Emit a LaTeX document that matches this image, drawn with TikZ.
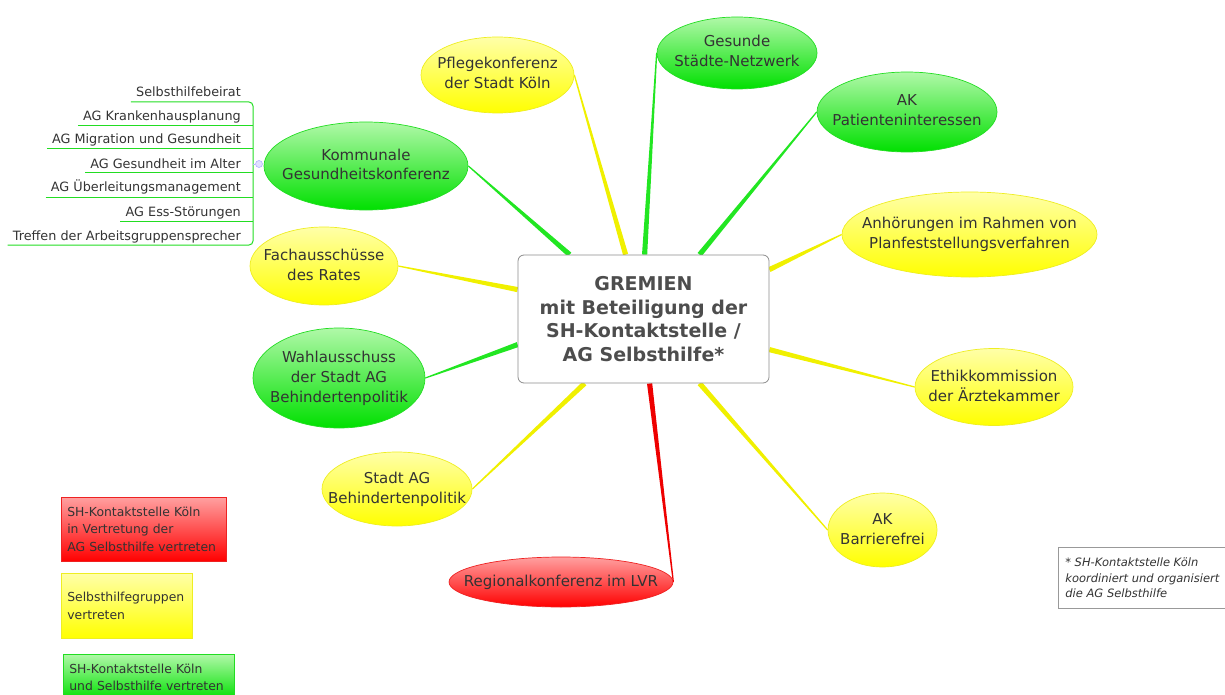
\documentclass[tikz,border=0pt]{standalone}
\usepackage{fontspec}
\setmainfont{DejaVu Sans}
\usetikzlibrary{shapes.geometric,calc,backgrounds}
\definecolor{txt}{HTML}{333333}
\definecolor{ctxt}{HTML}{4D4D4D}
\definecolor{gtop}{HTML}{B0F8A8}
\definecolor{gbot}{HTML}{00E000}
\definecolor{gline}{HTML}{22DD22}
\definecolor{ytop}{HTML}{FFFFA8}
\definecolor{ybot}{HTML}{FFFF00}
\definecolor{yline}{HTML}{EEEE22}
\definecolor{rtop}{HTML}{FFA0A0}
\definecolor{rbot}{HTML}{FF0000}
\definecolor{rline}{HTML}{EE2222}
\definecolor{cg}{HTML}{22E622}
\definecolor{cy}{HTML}{F0F000}
\definecolor{cr}{HTML}{EE0000}
\newcommand\conn[3]{\fill[#1] ($(#2)!2.6pt!90:(#3)$) -- ($(#2)!2.6pt!-90:(#3)$) -- ($(#3)!0.6pt!90:(#2)$) -- ($(#3)!0.6pt!-90:(#2)$) -- cycle;}
\newcommand\bt[1]{\makebox[0pt]{\begin{tabular}{@{}c@{}}#1\end{tabular}}}
\tikzset{
  bub/.style={ellipse, align=center, text=txt, inner sep=0pt, line width=0.7pt,
    font=\fontsize{15}{20}\selectfont},
  gbub/.style={bub, draw=gline, top color=gtop, bottom color=gbot},
  ybub/.style={bub, draw=yline, top color=ytop, bottom color=ybot},
  rbub/.style={bub, draw=rline, top color=rtop, bottom color=rbot},
  centre/.style={draw=black!45, fill=white, rounded corners=6pt, line width=0.8pt,
    minimum width=251pt, minimum height=128pt, align=center, text=ctxt,
    font=\fontsize{19}{23.5}\selectfont\bfseries},
  item/.style={anchor=base east, inner sep=0pt, text=txt, font=\fontsize{12.8}{15}\selectfont},
  listline/.style={draw=gline, line width=1pt},
  legend/.style={anchor=north west, align=left, text=txt, inner xsep=6pt, inner ysep=0pt,
    font=\fontsize{12.4}{17.5}\selectfont, line width=0.6pt},
  note/.style={anchor=north west, align=left, text=txt, draw=black!40, fill=white,
    inner xsep=6pt, inner ysep=0pt, line width=0.7pt,
    font=\fontsize{11.5}{15.5}\selectfont\itshape},
}
\begin{document}
\begin{tikzpicture}[x=1pt,y=-1pt]
\clip (0,0) rectangle (1225,695);
\useasboundingbox (0,0) rectangle (1225,695);

% centre
\node[centre] (ctr) at (643.5,319) {GREMIEN\\mit Beteiligung der\\SH-Kontaktstelle /\\AG Selbsthilfe*};

% topic bubbles
\node[ybub, minimum width=153pt, minimum height=76pt] (pfl) at (497.5,75) {\bt{Pflegekonferenz\\der Stadt Köln}};
\node[gbub, minimum width=160pt, minimum height=72pt] (gsn) at (737,53) {\bt{Gesunde\\Städte-Netzwerk}};
\node[gbub, minimum width=180pt, minimum height=80pt] (akp) at (907,112) {\bt{AK\\Patienteninteressen}};
\node[ybub, minimum width=255pt, minimum height=85pt] (anh) at (969.5,234.5) {\bt{Anhörungen im Rahmen von\\Planfeststellungsverfahren}};
\node[ybub, minimum width=158pt, minimum height=77pt] (eth) at (994,387) {\bt{Ethikkommission\\der Ärztekammer}};
\node[ybub, minimum width=109pt, minimum height=74pt] (akb) at (882.5,530) {\bt{AK\\Barrierefrei}};
\node[rbub, minimum width=224pt, minimum height=50pt] (rlvr) at (561,582) {\bt{Regionalkonferenz im LVR}};
\node[ybub, minimum width=150pt, minimum height=74pt] (sag) at (397,489) {\bt{Stadt AG\\Behindertenpolitik}};
\node[gbub, minimum width=172pt, minimum height=100pt] (wa) at (339,378) {\bt{Wahlausschuss\\der Stadt AG\\Behindertenpolitik}};
\node[ybub, minimum width=148pt, minimum height=78pt] (fa) at (324,266) {\bt{Fachausschüsse\\des Rates}};
\node[gbub, minimum width=204pt, minimum height=88pt] (kgk) at (366,166) {\bt{Kommunale\\Gesundheitskonferenz}};

% attachment points on the centre box
\coordinate (bK) at ($(ctr.north west)+(52,0)$);
\coordinate (bP) at ($(ctr.north west)+(108,0)$);
\coordinate (bG) at ($(ctr.north west)+(127,0)$);
\coordinate (bA) at ($(ctr.north west)+(182,0)$);
\coordinate (bH) at ($(ctr.north east)+(0,15)$);
\coordinate (bE) at ($(ctr.north east)+(0,95)$);
\coordinate (bB) at ($(ctr.south west)+(182,0)$);
\coordinate (bR) at ($(ctr.south west)+(132,0)$);
\coordinate (bS) at ($(ctr.south west)+(67,0)$);
\coordinate (bW) at ($(ctr.north west)+(0,90)$);
\coordinate (bF) at ($(ctr.north west)+(0,35)$);

\begin{scope}[on background layer]
\conn{cg}{bK}{kgk.east}
\conn{cy}{bP}{pfl.east}
\conn{cg}{bG}{gsn.west}
\conn{cg}{bA}{akp.west}
\conn{cy}{bH}{anh.west}
\conn{cy}{bE}{eth.west}
\conn{cy}{bB}{akb.west}
\conn{cr}{bR}{rlvr.east}
\conn{cy}{bS}{sag.east}
\conn{cg}{bW}{wa.east}
\conn{cy}{bF}{fa.east}
\end{scope}

% sub-list of Kommunale Gesundheitskonferenz
\node[item] (i1) at (241,97) {Selbsthilfebeirat};
\node[item] (i2) at (241,121) {AG Krankenhausplanung};
\node[item] (i3) at (241,144) {AG Migration und Gesundheit};
\node[item] (i4) at (241,168) {AG Gesundheit im Alter};
\node[item] (i5) at (241,192) {AG Überleitungsmanagement};
\node[item] (i6) at (241,216) {AG Ess-Störungen};
\node[item] (i7) at (241,240) {Treffen der Arbeitsgruppensprecher};
\coordinate (bar) at (253,0);
\foreach \n in {i1,i2,i3,i4,i5,i6,i7}{
  \coordinate (u\n) at ($(\n.base west)+(-5,5)$);
}
\draw[listline, rounded corners=4pt] (ui1) -- (ui1 -| bar) -- (ui7 -| bar) -- (ui7);
\foreach \n in {i2,i3,i4,i5,i6}{
  \draw[listline] (u\n) -- (u\n -| bar);
}
\node[circle, draw=blue!30, fill=blue!12, line width=0.6pt, minimum size=7pt, inner sep=0pt] (dot) at (259,164) {};
\draw[draw=blue!30, line width=0.6pt] (dot.west) -- (dot.west -| bar);

% legend
\node[legend, draw=rline, top color=rtop, bottom color=rbot, minimum width=165pt, minimum height=64pt, text width=153pt] (lr) at (61,497) {SH-Kontaktstelle Köln\\in Vertretung der\\AG Selbsthilfe vertreten};
\node[legend, draw=yline, top color=ytop, bottom color=ybot, minimum width=131pt, minimum height=65pt, text width=119pt] (ly) at (61,573) {Selbsthilfegruppen\\vertreten};
\node[legend, draw=gline, top color=gtop, bottom color=gbot, minimum width=171pt, minimum height=46pt, text width=159pt] (lg) at (63,654) {SH-Kontaktstelle Köln\\und Selbsthilfe vertreten};

% footnote
\node[note, minimum width=168pt, minimum height=61pt] (fn) at (1058,547) {* SH-Kontaktstelle Köln\\koordiniert und organisiert\\die AG Selbsthilfe};
\end{tikzpicture}
\end{document}
